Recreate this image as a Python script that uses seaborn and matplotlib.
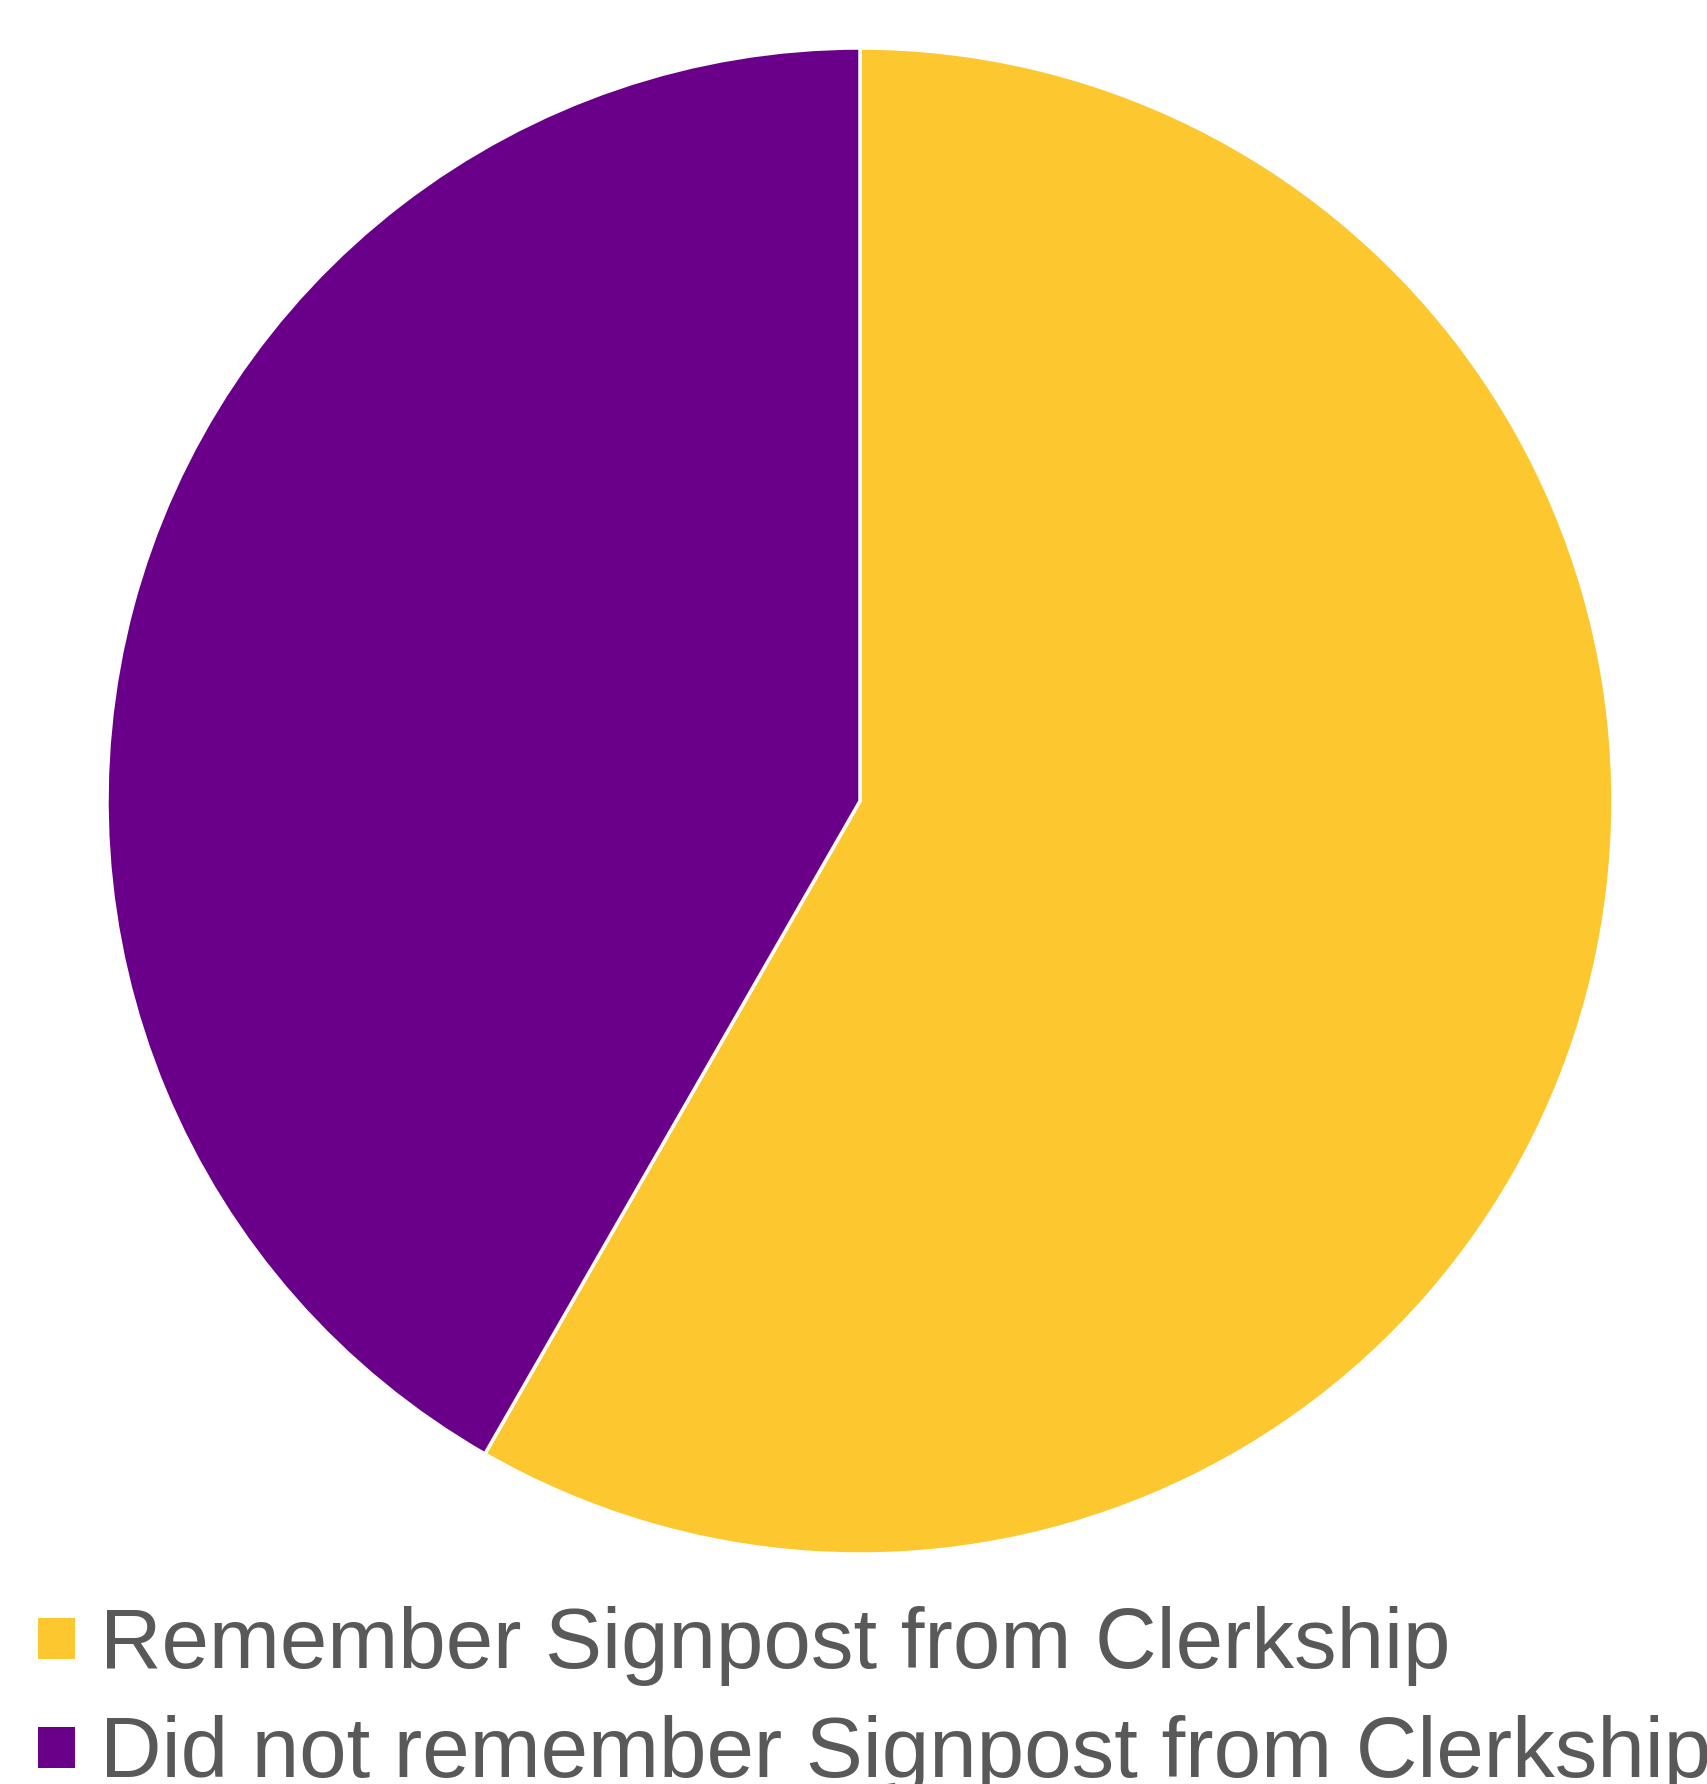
import matplotlib
matplotlib.use("Agg")
import matplotlib.pyplot as plt
import seaborn as sns
from matplotlib.patches import Rectangle

categories = ["Remember Signpost from Clerkship", "Did not remember Signpost from Clerkship"]
values = [58.3, 41.7]
colors = ["#FDC730", "#6A008A"]

sns.set_theme(style="white")
plt.rcParams["font.family"] = ["Liberation Sans", "DejaVu Sans"]

W, H = 1707, 1784
fig = plt.figure(figsize=(W / 100, H / 100), dpi=100)
fig.patch.set_facecolor("white")

cx, cy, r = 860, 801, 753
ax = fig.add_axes([(cx - r) / W, 1 - (cy + r) / H, 2 * r / W, 2 * r / H])
ax.pie(values, colors=colors, startangle=90, counterclock=False, radius=1,
       wedgeprops=dict(edgecolor="white", linewidth=2.5))
ax.set_xlim(-1, 1)
ax.set_ylim(-1, 1)
ax.set_aspect("equal")
ax.axis("off")

# legend
row_base = [1668, 1777]
for i, (lab, col) in enumerate(zip(categories, colors)):
    base = row_base[i]
    sq_top = base - 50
    fig.patches.append(Rectangle((38 / W, 1 - (sq_top + 41) / H), 37 / W, 41 / H,
                                 transform=fig.transFigure, facecolor=col, edgecolor="none"))
    fig.text(100 / W, 1 - base / H, lab, fontsize=61.4, color="#595959",
             ha="left", va="baseline")

fig.savefig("out.png", dpi=100, facecolor="white")
